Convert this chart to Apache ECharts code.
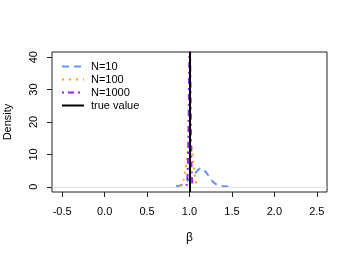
<!DOCTYPE html>
<html><head><meta charset="utf-8">
<script src="https://cdn.jsdelivr.net/npm/echarts@6/dist/echarts.min.js"></script>
<style>html,body{margin:0;padding:0;background:#fff}#c{width:354px;height:258px}</style>
</head><body><div id="c"></div>
<script>
// N=10 density estimate (beta, density)
const n10X = [0.84,0.88,0.92,0.96,1.00,1.04,1.08,1.12,1.14,1.16,1.20,1.24,1.28,1.32,1.36,1.40,1.44,1.48];
const n10Y = [0.15,0.35,0.8,1.6,2.4,3.2,4.6,5.6,5.8,5.4,4.3,2.8,1.5,0.7,0.3,0.15,0.07,0.03];
// N=100
const n100X = [0.88,0.90,0.92,0.94,0.96,0.98,1.00,1.02,1.04,1.06,1.08,1.10,1.12];
const n100Y = [0.2,0.6,1.5,3.5,6.8,10.6,13.4,12.8,8.6,3.8,1.1,0.3,0.05];
// N=1000
const n1000X = [0.965,0.975,0.985,0.990,0.995,1.000,1.005,1.010,1.015,1.020,1.030,1.040];
const n1000Y = [0.3,2.5,12,22,33,41,42,36,24,12,2,0.2];
const trueValue = 1;
const xTicks = [-0.5,0,0.5,1,1.5,2,2.5];
const yTicks = [0,10,20,30,40];

const pair = (xs, ys) => xs.map((x,i)=>[x, ys[i]]);
const chart = echarts.init(document.getElementById('c'), null, {renderer:'canvas'});
const font = 'Liberation Sans, Arial, sans-serif';
chart.setOption({
  animation:false,
  textStyle:{fontFamily:font},
  grid:{left:52,right:27,top:52,bottom:66,show:true,borderColor:'#222',borderWidth:1,backgroundColor:'transparent',
        containLabel:false, outerBoundsMode:'none'},
  legend:{
    left:56, top:56, orient:'vertical', itemWidth:22, itemHeight:10, itemGap:2,
    itemStyle:{opacity:0},
    textStyle:{fontSize:11,color:'#000',fontFamily:font,padding:[0,0,0,2]},
    data:['N=10','N=100','N=1000','true value']
  },
  xAxis:{
    type:'value', min:-0.62, max:2.62,
    name:'β', nameLocation:'middle', nameGap:40, nameTextStyle:{fontSize:12,color:'#000'},
    axisLine:{show:false, onZero:false}, splitLine:{show:false},
    axisTick:{show:true, inside:false, length:5, lineStyle:{color:'#222'}, customValues:xTicks},
    axisLabel:{fontSize:11,color:'#000',margin:14, customValues:xTicks, formatter:v=>v.toFixed(1)}
  },
  yAxis:{
    type:'value', min:-1.6, max:41.6,
    name:'Density', nameLocation:'middle', nameGap:39, nameRotate:90, nameTextStyle:{fontSize:11,color:'#000'},
    axisLine:{show:false, onZero:false}, splitLine:{show:false},
    axisTick:{show:true, length:5, lineStyle:{color:'#222'}, customValues:yTicks},
    axisLabel:{fontSize:11,color:'#000',rotate:90,margin:13, customValues:yTicks}
  },
  series:[
    {name:'N=10', type:'line', data:pair(n10X,n10Y), smooth:true, showSymbol:false, symbol:'none',
     lineStyle:{color:'#6495ED', width:2, type:[7,5]}, itemStyle:{color:'#6495ED'},
     markLine:{silent:true, symbol:'none', label:{show:false}, lineStyle:{color:'#e4e4e4', width:1, type:'solid'}, data:[{yAxis:0}]}},
    {name:'N=100', type:'line', data:pair(n100X,n100Y), smooth:true, showSymbol:false, symbol:'none',
     lineStyle:{color:'#FFA500', width:2, type:[2,5]}, itemStyle:{color:'#FFA500'}},
    {name:'N=1000', type:'line', data:pair(n1000X,n1000Y), smooth:true, showSymbol:false, symbol:'none',
     lineStyle:{color:'#A020F0', width:2, type:[2,4,6,4]}, itemStyle:{color:'#A020F0'}},
    {name:'true value', type:'line', data:[], showSymbol:false, symbol:'none',
     lineStyle:{color:'#000', width:2}, itemStyle:{color:'#000'},
     markLine:{silent:true, symbol:'none', label:{show:false}, lineStyle:{color:'#000', width:2, type:'solid'}, data:[{xAxis:trueValue}]}}
  ]
});
</script></body></html>
